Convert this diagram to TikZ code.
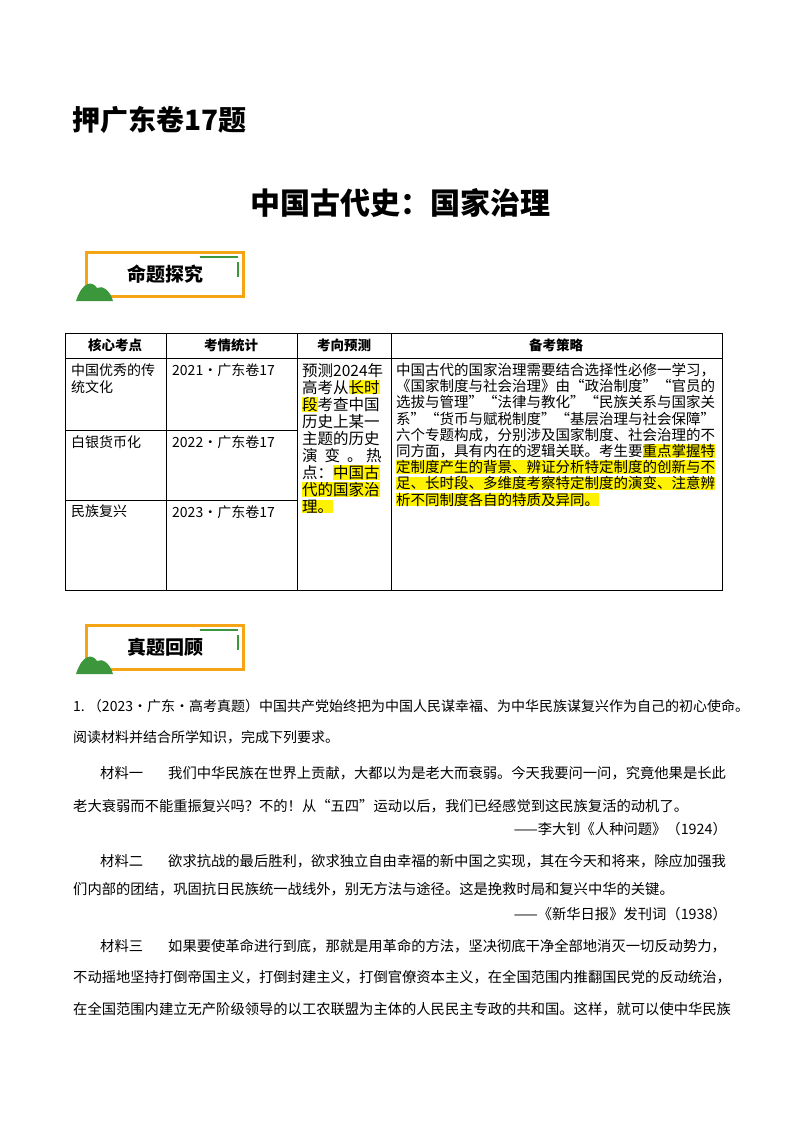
\documentclass[tikz,border=0pt]{standalone}
\usepackage{fontspec}
\setmainfont{Noto Sans CJK SC}
\newcommand{\hl}[1]{{\setlength{\fboxsep}{0pt}\colorbox{yellow}{#1}}}
\definecolor{org}{RGB}{245,165,20}
\definecolor{grn}{RGB}{60,150,60}
\begin{document}
\begin{tikzpicture}[x=1pt,y=-1pt,
  txt/.style={anchor=west,inner sep=0pt,font=\fontsize{14}{14}\selectfont},
  mtxt/.style={anchor=west,inner sep=0pt,font=\fontsize{14.3}{14}\selectfont},
  cell/.style={anchor=north west,inner sep=0pt,align=left,font=\fontsize{14}{17}\selectfont},
  hd/.style={inner sep=0pt,font=\bfseries\fontsize{13.5}{14}\selectfont}]
\useasboundingbox (0,0) rectangle (800,1132);
\node[anchor=west,inner sep=0pt,font=\bfseries\fontsize{28}{28}\selectfont] (t1) at (72,120) {押广东卷17题};
\node[inner sep=0pt,font=\bfseries\fontsize{30}{30}\selectfont] (t2) at (400,203) {中国古代史：国家治理};
% banners
\foreach \y/\lab/\n in {252/命题探究/b1,625/真题回顾/b2}{
  \draw[org,line width=3pt] (86,\y) rectangle (243,\y+44);
  \draw[grn,line width=1.5pt] (200,\y+5) -- (238,\y+5);
  \draw[grn,line width=1.5pt] (238,\y+10) -- (238,\y+25);
  \fill[grn] (76,\y+49) .. controls (82,\y+30) and (92,\y+28) .. (97,\y+36) .. controls (102,\y+33) and (110,\y+38) .. (113,\y+49) -- cycle;
  \node[inner sep=0pt,font=\bfseries\fontsize{19}{19}\selectfont] (\n) at (165,\y+22) {\lab};
}
% table
\draw[line width=0.8pt] (65,333) rectangle (722,590);
\draw (65,358) -- (722,358);
\foreach \x in {166,297,391} \draw (\x,333) -- (\x,590);
\draw (65,430) -- (297,430);
\draw (65,500) -- (297,500);
\node[hd] (h1) at (115,345) {核心考点};
\node[hd] (h2) at (231,345) {考情统计};
\node[hd] (h3) at (344,345) {考向预测};
\node[hd] (h4) at (556,345) {备考策略};
\node[cell] (c1) at (71,363) {中国优秀的传\\统文化};
\node[cell] (c2) at (71,435) {白银货币化};
\node[cell] (c3) at (71,505) {民族复兴};
\node[cell] (d1) at (172,363) {2021·广东卷17};
\node[cell] (d2) at (172,435) {2022·广东卷17};
\node[cell] (d3) at (172,505) {2023·广东卷17};
\node[cell,font=\fontsize{15.5}{17}\selectfont] (p) at (302,363) {预测2024年\\高考从\hl{长时}\\\hl{段}考查中国\\历史上某一\\主题的历史\\演\ \ 变\ \ 。\ 热\\点：\hl{中国古}\\\hl{代的国家治}\\\hl{理。}};
\node[cell,font=\fontsize{14.5}{16.2}\selectfont] (s) at (396,363) {中国古代的国家治理需要结合选择性必修一学习，\\《国家制度与社会治理》由“政治制度”“官员的\\选拔与管理”“法律与教化”“民族关系与国家关\\系”“货币与赋税制度”“基层治理与社会保障”\\六个专题构成，分别涉及国家制度、社会治理的不\\同方面，具有内在的逻辑关联。考生要\hl{重点掌握特}\\\hl{定制度产生的背景、辨证分析特定制度的创新与不}\\\hl{足、长时段、多维度考察特定制度的演变、注意辨}\\\hl{析不同制度各自的特质及异同。}};
% body
\node[txt] (l1) at (73,706) {1.\ （2023·广东·高考真题）中国共产党始终把为中国人民谋幸福、为中华民族谋复兴作为自己的初心使命。};
\node[txt] (l2) at (73,737) {阅读材料并结合所学知识，完成下列要求。};
\node[mtxt] (m1) at (100,773) {材料一};
\node[mtxt] (m1a) at (168,773) {我们中华民族在世界上贡献，大都以为是老大而衰弱。今天我要问一问，究竟他果是长此};
\node[mtxt] (m1b) at (73,806) {老大衰弱而不能重振复兴吗？不的！从“五四”运动以后，我们已经感觉到这民族复活的动机了。};
\node[mtxt,anchor=east] (s1) at (727,829) {——李大钊《人种问题》（1924）};
\node[mtxt] (m2) at (100,861) {材料二};
\node[mtxt] (m2a) at (168,861) {欲求抗战的最后胜利，欲求独立自由幸福的新中国之实现，其在今天和将来，除应加强我};
\node[mtxt] (m2b) at (73,889) {们内部的团结，巩固抗日民族统一战线外，别无方法与途径。这是挽救时局和复兴中华的关键。};
\node[mtxt,anchor=east] (s2) at (727,914) {——《新华日报》发刊词（1938）};
\node[mtxt] (m3) at (100,946) {材料三};
\node[mtxt] (m3a) at (168,946) {如果要使革命进行到底，那就是用革命的方法，坚决彻底干净全部地消灭一切反动势力，};
\node[mtxt] (m3b) at (73,977) {不动摇地坚持打倒帝国主义，打倒封建主义，打倒官僚资本主义，在全国范围内推翻国民党的反动统治，};
\node[mtxt] (m3c) at (73,1009) {在全国范围内建立无产阶级领导的以工农联盟为主体的人民民主专政的共和国。这样，就可以使中华民族};
\end{tikzpicture}
\end{document}
